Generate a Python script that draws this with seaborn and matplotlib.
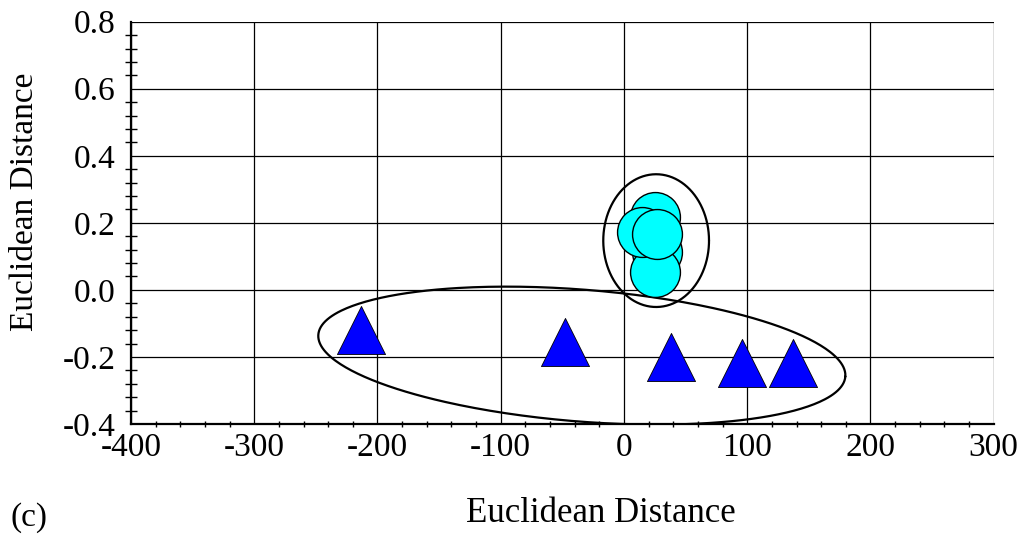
import numpy as np
import pandas as pd
import matplotlib
matplotlib.use("Agg")
import matplotlib.pyplot as plt
from matplotlib.ticker import MultipleLocator, FixedLocator, FormatStrFormatter
import seaborn as sns

# Group A: cyan circles
circle_x = [24.9, 26.5, 25.2, 14.4, 26.8]
circle_y = [0.218, 0.114, 0.054, 0.174, 0.168]

# Group B: blue triangles
tri_x = [-213.6, -48.1, 37.9, 96.0, 137.4]
tri_y = [-0.121, -0.155, -0.200, -0.217, -0.219]

x_ticks = [-400, -300, -200, -100, 0, 100, 200, 300]
y_ticks = [-0.4, -0.2, 0.0, 0.2, 0.4, 0.6, 0.8]

# Cluster outlines: centre plus two half-axis vectors, in data units
ring_a_center = (26.1, 0.147)
ring_a_u = (42.9, 0.0)
ring_a_v = (0.0, 0.198)
ring_b_center = (-34.2, -0.196)
ring_b_u = (213.8, -0.0626)
ring_b_v = (-4.26, -0.196)

sns.set_style("white")
plt.rcParams["font.family"] = ["Liberation Serif", "DejaVu Serif"]
plt.rcParams["axes.unicode_minus"] = False
plt.rcParams["text.color"] = "black"

FS = 24

fig = plt.figure(figsize=(10.19, 5.35), dpi=100)
W, H = 1019, 535
ax = fig.add_axes([131 / W, 1 - 424 / H, (993.7 - 131) / W, (424 - 21.7) / H])

ax.set_xlim(x_ticks[0], x_ticks[-1])
ax.set_ylim(y_ticks[0], y_ticks[-1])

ax.xaxis.set_major_locator(FixedLocator(x_ticks))
ax.yaxis.set_major_locator(FixedLocator(y_ticks))
ax.xaxis.set_minor_locator(MultipleLocator(20))
ax.yaxis.set_minor_locator(MultipleLocator(0.04))
ax.xaxis.set_major_formatter(FormatStrFormatter("%d"))
ax.yaxis.set_major_formatter(FormatStrFormatter("%.1f"))

ax.grid(True, which="major", color="black", linewidth=0.9)
ax.set_axisbelow(True)

for side in ["top", "right"]:
    ax.spines[side].set_visible(False)
for side in ["left", "bottom"]:
    ax.spines[side].set_color("black")
    ax.spines[side].set_linewidth(1.6)

ax.tick_params(axis="y", which="major", direction="inout", length=20,
               width=1.5, pad=1, labelsize=FS, colors="black")
ax.tick_params(axis="y", which="minor", direction="inout", length=8,
               width=1.0, left=True, colors="black")
ax.tick_params(axis="x", which="major", direction="out", length=6,
               width=1.2, pad=0, labelsize=FS, colors="black")
ax.tick_params(axis="x", which="minor", direction="inout", length=5,
               width=1.0, bottom=True, colors="black")


def outline(center, u, v):
    t = np.linspace(0, 2 * np.pi, 400)
    xs = center[0] + u[0] * np.cos(t) + v[0] * np.sin(t)
    ys = center[1] + u[1] * np.cos(t) + v[1] * np.sin(t)
    ax.plot(xs, ys, color="black", linewidth=1.6, zorder=3)


outline(ring_a_center, ring_a_u, ring_a_v)
outline(ring_b_center, ring_b_u, ring_b_v)

circles = pd.DataFrame({"x": circle_x, "y": circle_y})
triangles = pd.DataFrame({"x": tri_x, "y": tri_y})

sns.scatterplot(data=circles, x="x", y="y", marker="o", s=1290,
                color="#00FFFF", edgecolor="black", linewidth=1.0,
                ax=ax, zorder=4, legend=False)
sns.scatterplot(data=triangles, x="x", y="y", marker="^", s=1200,
                color="#0000FF", edgecolor="black", linewidth=0.6,
                ax=ax, zorder=4, legend=False)

ax.set_xlabel("")
ax.set_ylabel("")

fig.text(601 / W, 1 - 513 / H, "Euclidean Distance", fontsize=25,
         color="black", ha="center", va="center")
fig.text(25 / W, 1 - 202 / H, "Euclidean Distance", fontsize=FS,
         color="black", ha="center", va="center", rotation=90)
fig.text(10 / W, 1 - 518 / H, "(c)", fontsize=FS, color="black",
         ha="left", va="center")

fig.savefig("out.png", dpi=100, facecolor="white")
